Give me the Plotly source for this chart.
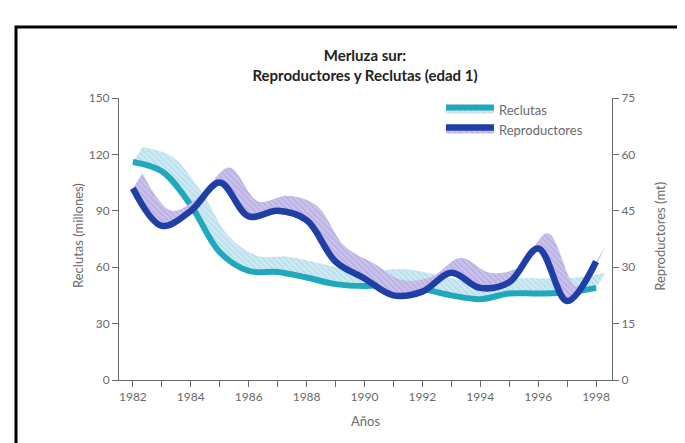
import plotly.graph_objects as go

# ---- data ----
anios = list(range(1982, 1999))
reclutas = [116, 111, 93, 68, 58, 57.5, 54.5, 51, 50, 51, 48.5, 45, 43, 46, 46, 46.5, 49]          # millones (eje izq.)
reproductores = [51, 41, 45, 52.5, 43.5, 45, 42.5, 31.5, 27, 22.5, 23.5, 28.5, 24.5, 26, 35, 21, 31.5]  # mt (eje der.)

# ---- style: 3D ribbon offset (depth of the ribbon) ----
DX = 0.33         # years
DY_LEFT = 8.0     # millones
DY_RIGHT = 4.0    # mt

FONT = "Lato"
GRAY = "#6a6a6a"

fig = go.Figure()

def ribbon(x, y, dy, yaxis, name, dark, light_bg, light_fg, width):
    xs = [v + DX for v in x]
    ys = [v + dy for v in y]
    fig.add_trace(go.Scatter(
        x=xs, y=ys, yaxis=yaxis, mode="lines",
        line=dict(width=0, shape="spline", smoothing=1.0, color=light_bg),
        showlegend=False, hoverinfo="skip"))
    fig.add_trace(go.Scatter(
        x=x, y=y, yaxis=yaxis, mode="lines", name=name,
        line=dict(width=width, shape="spline", smoothing=1.0, color=dark),
        fill="tonexty", fillcolor=light_bg,
        fillpattern=dict(shape="\\", bgcolor=light_bg, fgcolor=light_fg, size=4, solidity=0.35)))

ribbon(anios, reclutas, DY_LEFT, "y", "Reclutas", "#22a8bc", "#cfeaf3", "#98d0e2", 6)
ribbon(anios, reproductores, DY_RIGHT, "y2", "Reproductores", "#1f3ea6", "#cbc3ec", "#a096d6", 6.5)

axis_common = dict(
    showline=True, linecolor=GRAY, linewidth=1,
    ticks="outside", ticklen=6, tickcolor=GRAY, tickwidth=1,
    showgrid=False, zeroline=False,
    tickfont=dict(family=FONT, size=12, color=GRAY),
)

fig.update_layout(
    width=685, height=443,
    margin=dict(l=111, r=81, t=90, b=71),
    paper_bgcolor="white", plot_bgcolor="white",
    title=dict(
        text="<b>Merluza sur:<br>Reproductores y Reclutas (edad 1)</b>",
        x=357 / 685, xanchor="center", y=1 - 53 / 443, yanchor="top",
        font=dict(family=FONT, size=15, color="#222222")),
    xaxis=dict(range=[1981.52, 1998.55], tick0=1982, dtick=2,
               minor=dict(dtick=1, ticks="outside", ticklen=6, tickcolor=GRAY),
               **axis_common),
    yaxis=dict(range=[0, 150], dtick=30, **axis_common),
    yaxis2=dict(range=[0, 75], dtick=15, overlaying="y", side="right", **axis_common),
    legend=dict(x=0.653, xanchor="left", y=1.012, yanchor="top", traceorder="normal",
                font=dict(family=FONT, size=13, color=GRAY),
                bgcolor="rgba(0,0,0,0)", itemwidth=48, tracegroupgap=2),
    showlegend=True,
    annotations=[
        dict(text="Reclutas (millones)", textangle=-90, xref="paper", yref="paper",
             x=-0.083, y=0.511, showarrow=False, xanchor="center", yanchor="middle",
             font=dict(family=FONT, size=13, color=GRAY)),
        dict(text="Reproductores (mt)", textangle=-90, xref="paper", yref="paper",
             x=1.097, y=0.511, showarrow=False, xanchor="center", yanchor="middle",
             font=dict(family=FONT, size=13, color=GRAY)),
        dict(text="Años", xref="paper", yref="paper", x=0.499, y=-0.145,
             showarrow=False, xanchor="center", yanchor="middle",
             font=dict(family=FONT, size=13, color=GRAY)),
    ],
    shapes=[dict(type="rect", xref="paper", yref="paper",
                 x0=(8 - 111) / 493, x1=(682 - 111) / 493,
                 y0=-0.35, y1=(372 - 19) / 282,
                 line=dict(color="black", width=3), fillcolor="rgba(0,0,0,0)", layer="above")],
)

fig.write_html("out.html")
